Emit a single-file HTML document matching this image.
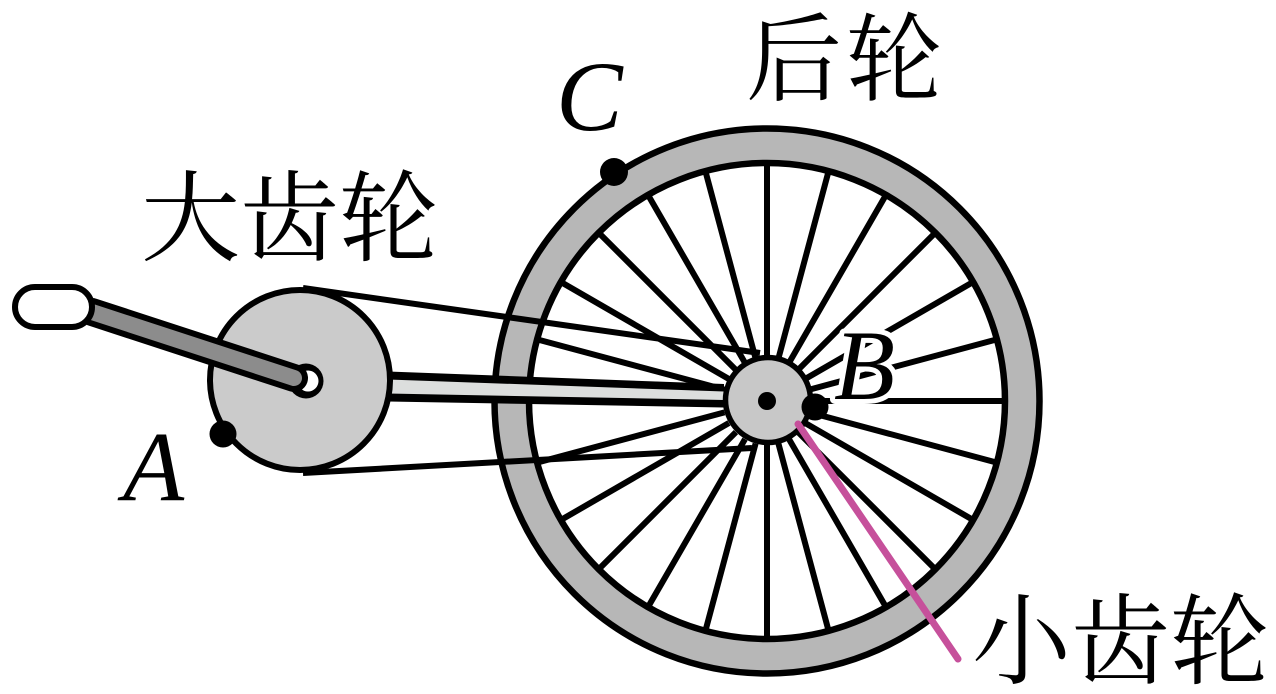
<!DOCTYPE html>
<html><head><meta charset="utf-8"><style>
html,body{margin:0;padding:0;background:#fff;}
svg{display:block;}
</style></head><body>
<svg width="1276" height="694" viewBox="0 0 1276 694" xmlns="http://www.w3.org/2000/svg">
<rect width="1276" height="694" fill="#fff"/>
<!-- rear wheel rim -->
<circle cx="767" cy="401" r="272.5" fill="#b7b7b7" stroke="#000" stroke-width="6.5"/>
<circle cx="767" cy="401" r="238" fill="#fff" stroke="#000" stroke-width="6.5"/>
<!-- spokes -->
<g stroke="#000" stroke-width="6">
<line x1="811" y1="401" x2="1003" y2="401"/>
<line x1="809.5" y1="412.4" x2="995" y2="462.1"/>
<line x1="805.1" y1="423" x2="971.4" y2="519"/>
<line x1="798.1" y1="432.1" x2="933.9" y2="567.9"/>
<line x1="789" y1="439.1" x2="885" y2="605.4"/>
<line x1="778.4" y1="443.5" x2="828.1" y2="629"/>
<line x1="767" y1="445" x2="767" y2="637"/>
<line x1="755.6" y1="443.5" x2="705.9" y2="629"/>
<line x1="745" y1="439.1" x2="649" y2="605.4"/>
<line x1="735.9" y1="432.1" x2="600.1" y2="567.9"/>
<line x1="728.9" y1="423" x2="562.6" y2="519"/>
<line x1="724.5" y1="412.4" x2="539" y2="462.1"/>
<line x1="723" y1="401" x2="531" y2="401"/>
<line x1="724.5" y1="389.6" x2="539" y2="339.9"/>
<line x1="728.9" y1="379" x2="562.6" y2="283"/>
<line x1="735.9" y1="369.9" x2="600.1" y2="234.1"/>
<line x1="745" y1="362.9" x2="649" y2="196.6"/>
<line x1="755.6" y1="358.5" x2="705.9" y2="173"/>
<line x1="767" y1="357" x2="767" y2="165"/>
<line x1="778.4" y1="358.5" x2="828.1" y2="173"/>
<line x1="789" y1="362.9" x2="885" y2="196.6"/>
<line x1="798.1" y1="369.9" x2="933.9" y2="234.1"/>
<line x1="805.1" y1="379" x2="971.4" y2="283"/>
<line x1="809.5" y1="389.6" x2="995" y2="339.9"/>
</g>
<!-- chain -->
<line x1="303" y1="288" x2="760" y2="353" stroke="#000" stroke-width="6"/>
<line x1="303" y1="473" x2="752" y2="448" stroke="#000" stroke-width="6"/>
<!-- chain stay bar -->
<polygon points="388,371.5 724,384 724,407.5 388,401.5" fill="#000"/>
<polygon points="388,379.5 724,391.5 724,400 388,393.5" fill="#dcdedd"/>
<!-- hub -->
<circle cx="768" cy="400" r="42.5" fill="#c8c8c8" stroke="#000" stroke-width="5.5"/>
<circle cx="767" cy="401" r="9" fill="#000"/>
<!-- pink leader -->
<line x1="798" y1="424" x2="958" y2="659" stroke="#c6509b" stroke-width="7" stroke-linecap="round"/>
<!-- big gear -->
<circle cx="300" cy="380" r="90" fill="#cbcbcb" stroke="#000" stroke-width="6"/>
<circle cx="306" cy="381" r="17.5" fill="#000"/>
<circle cx="308" cy="381" r="10.5" fill="#fff"/>
<!-- crank -->
<line x1="92" y1="312" x2="294" y2="378" stroke="#000" stroke-width="28" stroke-linecap="round"/>
<line x1="92" y1="312" x2="294" y2="378" stroke="#8c8c8c" stroke-width="16" stroke-linecap="round"/>
<!-- pedal -->
<rect x="15" y="287" width="77" height="40" rx="20" ry="20" fill="#fff" stroke="#000" stroke-width="6"/>
<!-- dots -->
<circle cx="223" cy="434" r="13.5" fill="#000"/>
<circle cx="614" cy="172" r="14" fill="#000"/>
<circle cx="815" cy="407" r="13.5" fill="#000"/>
<!-- labels -->
<g font-family="'Liberation Serif', serif" font-style="italic" font-size="100" fill="#000">
<text x="556" y="130">C</text>
<text x="123" y="500">A</text>
<text x="834" y="399" stroke="#fff" stroke-width="10" paint-order="stroke" stroke-linejoin="round">B</text>
</g>
<g font-family="'Liberation Serif', 'Noto Serif CJK SC', 'Noto Sans CJK SC', serif" fill="#000">
<text x="746" y="93" font-size="96" textLength="196" lengthAdjust="spacing">后轮</text>
<text x="141" y="253" font-size="99" textLength="297" lengthAdjust="spacing">大齿轮</text>
<text x="972" y="676" font-size="99" textLength="297" lengthAdjust="spacing">小齿轮</text>
</g>
</svg>
</body></html>
